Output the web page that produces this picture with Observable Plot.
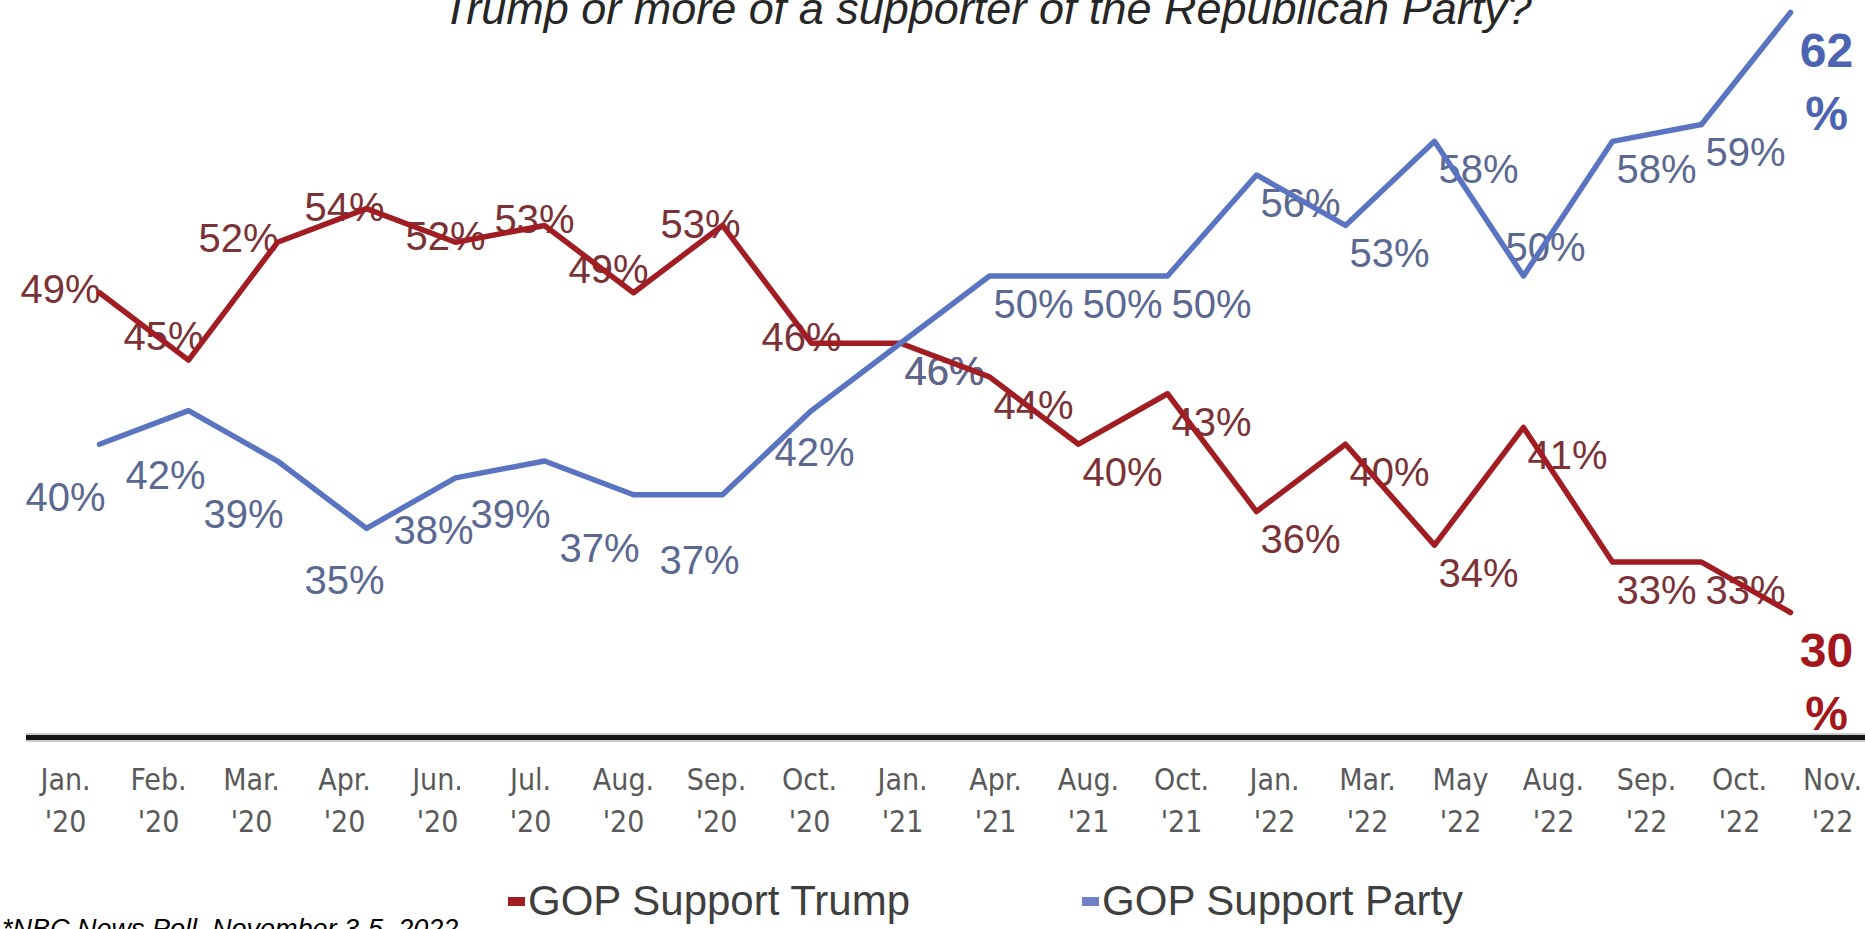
<!DOCTYPE html>
<html><head><meta charset="utf-8">
<script src="https://cdn.jsdelivr.net/npm/d3@7"></script>
<script src="https://cdn.jsdelivr.net/npm/@observablehq/plot@0.6"></script>
<style>
body{margin:0;background:#fff}
#wrap{position:relative;width:1865px;height:929px;overflow:hidden;background:#fff;font-family:"Liberation Sans",Arial,sans-serif}
#wrap > div{position:absolute}
#main,#axis{left:0;top:0;width:1865px;height:929px}
#main svg,#axis svg{max-width:none !important;width:1865px;height:929px}
#title{left:442px;top:-14px;font-size:45px;line-height:1;font-style:italic;color:#262626;white-space:nowrap}
#legend{left:508px;top:880px;font-size:42px;line-height:1;color:#3f3f3f;white-space:nowrap}
#legend .item{display:inline-block;margin-right:172px}
#legend .sw{display:inline-block;width:17px;height:9px;vertical-align:middle;margin-right:3px;position:relative;top:-2px}
#foot{left:2px;top:916px;font-size:27px;line-height:1;font-style:italic;color:#000;white-space:nowrap}
</style></head><body>
<div id="wrap">
<div id="title"></div>
<div id="main"></div>
<div id="axis"></div>
<div id="legend"></div>
<div id="foot"></div>
</div>
<script>
// ---- data ----
const months = ["Jan.","Feb.","Mar.","Apr.","Jun.","Jul.","Aug.","Sep.","Oct.","Jan.","Apr.","Aug.","Oct.","Jan.","Mar.","May","Aug.","Sep.","Oct.","Nov."];
const years  = ["'20","'20","'20","'20","'20","'20","'20","'20","'20","'21","'21","'21","'21","'22","'22","'22","'22","'22","'22","'22"];
const trumpValues = [49,45,52,54,52,53,49,53,46,46,44,40,43,36,40,34,41,33,33,30];
const partyValues = [40,42,39,35,38,39,37,37,42,46,50,50,50,56,53,58,50,58,59,62];
const seriesNames = ["GOP Support Trump","GOP Support Party"];
const titleText = "Trump or more of a supporter of the Republican Party?";
const footText = "*NBC News Poll, November 3-5, 2022";

// ---- label placement (style, kept apart from data) ----
const trumpPlace = ["L","UL","L","C1","C2","C2","UL","C1","C2","RB","RB","RB","RB","RB","RB","RB","RB","RB","RB","END"];
const partyPlace = ["BL","BL3","BL","BM","BM","BL","BL","BL3","BR","RB","RB","RB","RB","RB","RB","RB","RA","RB","RB","END"];
const offsets = {
  L:{dx:-39,dy:-3}, UL:{dx:-25,dy:-23}, C1:{dx:-22,dy:0}, C2:{dx:-10,dy:-5},
  BL:{dx:-34,dy:54}, BL3:{dx:-23,dy:66}, BM:{dx:-22,dy:53}, BR:{dx:3,dy:43},
  RB:{dx:44,dy:29}, RA:{dx:22,dy:-28}
};
const lineColor = {Trump:"#a11d23", Party:"#5a74c2"};
const labelColor = {Trump:"#7a3236", Party:"#5b6891"};
const endColor = {Trump:"#a3161c", Party:"#4c63b2"};

const cats = months.map((m,i)=>`${m}\n${years[i]}`);
const rows = [];
trumpValues.forEach((v,i)=>rows.push({series:"Trump", cat:cats[i], value:v, place:trumpPlace[i]}));
partyValues.forEach((v,i)=>rows.push({series:"Party", cat:cats[i], value:v, place:partyPlace[i]}));

const labelMarks = [];
for (const [key,o] of Object.entries(offsets)) {
  for (const s of ["Trump","Party"]) {
    const data = rows.filter(r=>r.series===s && r.place===key);
    if (!data.length) continue;
    labelMarks.push(Plot.text(data, {x:"cat", y:"value", text:d=>`${d.value}%`, dx:o.dx, dy:o.dy,
      fill:labelColor[s], fontSize:40, lineAnchor:"middle", textAnchor:"middle",
      fontFamily:"'Liberation Sans', Arial, sans-serif"}));
  }
}
const endMarks = ["Trump","Party"].map(s => Plot.text(rows.filter(r=>r.series===s && r.place==="END"), {
  x:"cat", y:"value", text:d=>`${d.value}\n%`, dx:36, dy:66, lineHeight:1.3,
  fill:endColor[s], fontSize:48, fontWeight:"bold", lineAnchor:"middle", textAnchor:"middle",
  fontFamily:"'Liberation Sans', Arial, sans-serif"}));

const main = Plot.plot({
  width:1865, height:929, margin:0,
  style:{background:"transparent", overflow:"visible"},
  x:{type:"point", domain:cats, range:[92,1796], padding:0, axis:null},
  y:{type:"linear", domain:[30,59,62], range:[612,124,12], axis:null},
  marks:[
    ...labelMarks,
    Plot.line(rows.filter(r=>r.series==="Trump"), {x:"cat", y:"value", stroke:lineColor.Trump, strokeWidth:5.5}),
    Plot.line(rows.filter(r=>r.series==="Party"), {x:"cat", y:"value", stroke:lineColor.Party, strokeWidth:5.5}),
    ...endMarks
  ]
});
document.getElementById("main").appendChild(main);

const axis = Plot.plot({
  width:1865, height:929, marginTop:737, marginBottom:191, marginLeft:26, marginRight:0,
  style:{background:"transparent", overflow:"visible"},
  x:{type:"point", domain:cats, range:[62,1834], padding:0, axis:null},
  y:{type:"linear", domain:[0,1], axis:null},
  marks:[
    Plot.ruleY([1], {stroke:"#9a9a9a", strokeWidth:9, strokeOpacity:0.5}),
    Plot.ruleY([1], {stroke:"#141414", strokeWidth:5}),
    Plot.axisX({anchor:"bottom", tickSize:0, tickPadding:22, fontSize:30, lineHeight:1.4,
      fill:"#595959", fontFamily:"'Liberation Sans Narrow','DejaVu Sans Condensed','Liberation Sans',sans-serif"})
  ]
});
document.getElementById("axis").appendChild(axis);

document.getElementById("title").textContent = titleText;
document.getElementById("foot").textContent = footText;
const lg = document.getElementById("legend");
const swColors = [lineColor.Trump, "#6f7fc8"];
seriesNames.forEach((n,i)=>{
  const it = document.createElement("span"); it.className="item";
  const sw = document.createElement("span"); sw.className="sw"; sw.style.background = swColors[i];
  it.appendChild(sw); it.appendChild(document.createTextNode(n)); lg.appendChild(it);
});
</script>
</body></html>
